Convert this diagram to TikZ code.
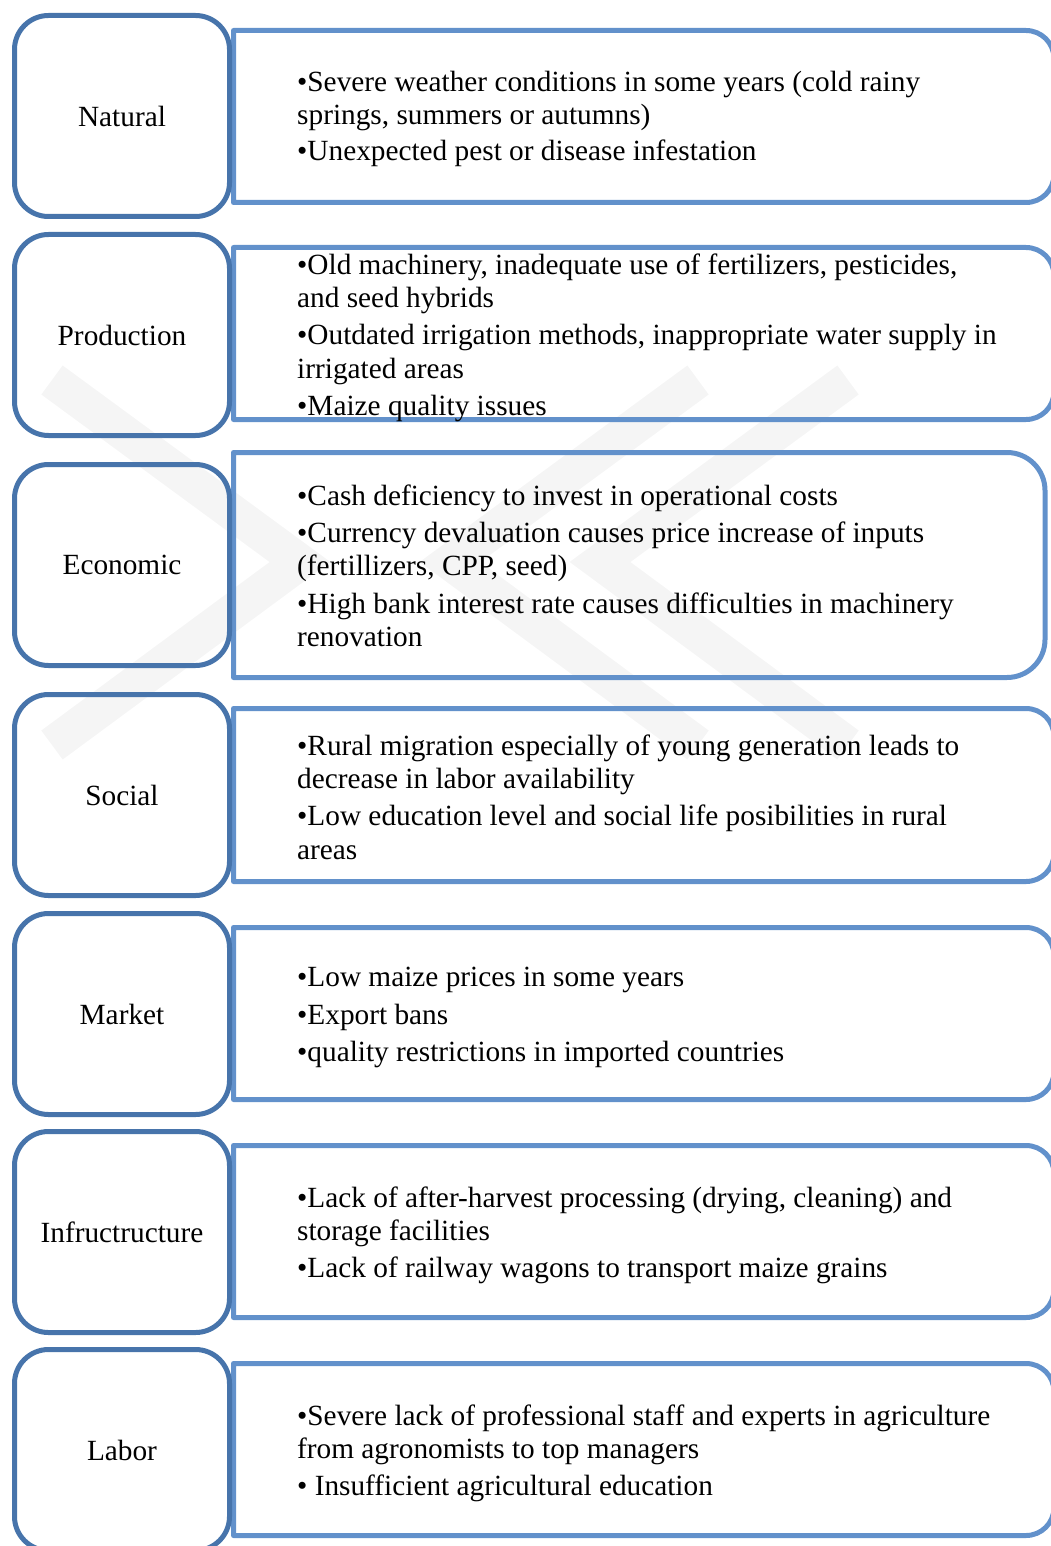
\documentclass[tikz,border=0pt]{standalone}
\usepackage{fontspec}
\setmainfont{Liberation Serif}
\definecolor{catblue}{RGB}{71,116,171}
\definecolor{itemblue}{RGB}{98,145,203}
\definecolor{markgray}{RGB}{245,245,245}
\tikzset{
  catbox/.style={draw=catblue, line width=5pt, rounded corners=34pt,
    minimum width=215pt, minimum height=201pt, inner sep=0pt,
    font=\fontsize{29.3}{33.35}\selectfont},
  itemframe/.style={draw=itemblue, line width=5pt, line join=round},
  itemtext/.style={anchor=north west, inner sep=0pt, align=left,
    font=\fontsize{29.3}{33.35}\selectfont},
  markband/.style={draw=markgray, line width=36pt, line join=miter},
}
% first-line strut: the text node's top edge sits 24pt above the first baseline
\newcommand\fl{\rule{0pt}{24pt}}
% frame with a square left side and rounded right corners:
% #1 top, #2 bottom, #3 right edge, #4 corner radius
\newcommand\rframe[4]{%
  \draw[itemframe] (233.5,#1) -- ({#3-#4},#1)
    arc[start angle=-90, end angle=0, radius=#4] -- (#3,{#2-#4})
    arc[start angle=0, end angle=90, radius=#4] -- (233.5,#2) -- cycle;}
\begin{document}
\begin{tikzpicture}[x=1pt, y=-1pt]
\useasboundingbox (0,0) rectangle (1051,1546);
\clip (0,0) rectangle (1051,1546);

% faint background mark
\draw[markband] (52,380) -- (300,562) -- (52,745);
\draw[markband] (698,380) -- (450,562) -- (698,745);
\draw[markband] (848,380) -- (600,562) -- (848,745);

% item frames
\rframe{30.5}{202.5}{1054}{28}
\rframe{247.5}{419.5}{1054}{28}
\rframe{452.5}{677.5}{1045}{38}
\rframe{708.5}{881.5}{1054}{28}
\rframe{927.5}{1099.5}{1054}{28}
\rframe{1145.5}{1317.5}{1054}{28}
\rframe{1363.5}{1535.5}{1054}{28}

% category boxes
\node[catbox] (natural)   at (122,116)  {Natural};
\node[catbox] (production) at (122,335) {Production};
\node[catbox] (economic)  at (122,565)  {Economic};
\node[catbox] (social)    at (122,795)  {Social};
\node[catbox] (market)    at (122,1014) {Market};
\node[catbox] (infra)     at (122,1232) {Infructructure};
\node[catbox] (labor)     at (122,1450) {Labor};

% item lists
\node[itemtext] (naturalitems) at (297,{91-24}) {\fl•Severe weather conditions in some years (cold rainy\\
springs, summers or autumns)\\[3pt]
•Unexpected pest or disease infestation};

\node[itemtext] (productionitems) at (297,{274-24}) {\fl•Old machinery, inadequate use of fertilizers, pesticides,\\
and seed hybrids\\[4pt]
•Outdated irrigation methods, inappropriate water supply in\\
irrigated areas\\[4pt]
•Maize quality issues};

\node[itemtext] (economicitems) at (297,{505-24}) {\fl•Cash deficiency to invest in operational costs\\[4pt]
•Currency devaluation causes price increase of inputs\\
(fertillizers, CPP, seed)\\[4pt]
•High bank interest rate causes difficulties in machinery\\
renovation};

\node[itemtext] (socialitems) at (297,{755-24}) {\fl•Rural migration especially of young generation leads to\\
decrease in labor availability\\[4pt]
•Low education level and social life posibilities in rural\\
areas};

\node[itemtext] (marketitems) at (297,{986-24}) {\fl•Low maize prices in some years\\[4.5pt]
•Export bans\\[4pt]
•quality restrictions in imported countries};

\node[itemtext] (infraitems) at (297,{1207-24}) {\fl•Lack of after-harvest processing (drying, cleaning) and\\
storage facilities\\[4pt]
•Lack of railway wagons to transport maize grains};

\node[itemtext] (laboritems) at (297,{1425-24}) {\fl•Severe lack of professional staff and experts in agriculture\\
from agronomists to top managers\\[4pt]
• Insufficient agricultural education};
\end{tikzpicture}
\end{document}
